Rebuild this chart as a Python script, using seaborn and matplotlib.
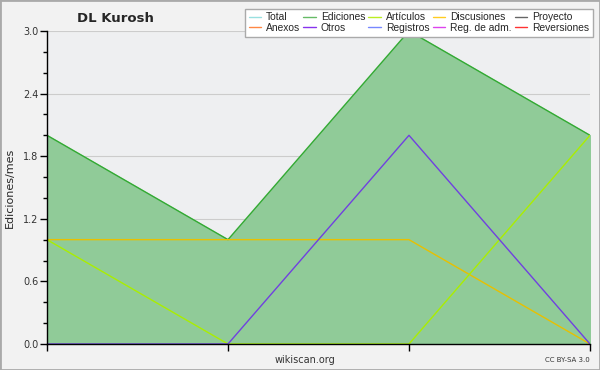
import numpy as np
import pandas as pd
import matplotlib
matplotlib.use("Agg")
import matplotlib.pyplot as plt
import seaborn as sns
from matplotlib.lines import Line2D

# data (four months, no x labels)
months = [0, 1, 2, 3]
ediciones = [2, 1, 3, 2]
articulos = [1, 0, 0, 2]
discusiones = [1, 1, 1, 0]
otros = [0, 0, 2, 0]

y_ticks = [0.0, 0.6, 1.2, 1.8, 2.4, 3.0]

legend_names = ["Total", "Ediciones", "Artículos", "Discusiones", "Proyecto",
                "Anexos", "Otros", "Registros", "Reg. de adm.", "Reversiones"]
legend_colors = ["#99e0e0", "#66bb66", "#bbee22", "#ffcc22", "#666666",
                 "#ff8844", "#8833ee", "#7788ff", "#dd44ee", "#ff3333"]

sns.set_style("white")
plt.rcParams["font.family"] = ["DejaVu Sans"]

fig = plt.figure(figsize=(6, 3.7), dpi=100, facecolor="#f2f2f2")
ax = fig.add_axes([0.0783, 0.0703, 0.905, 0.846])
ax.set_facecolor("#eeeff1")

df = pd.DataFrame({"mes": months, "ediciones": ediciones, "articulos": articulos,
                   "discusiones": discusiones, "otros": otros})

ax.fill_between(df["mes"], df["ediciones"], color="#90cb98", zorder=2)
sns.lineplot(data=df, x="mes", y="ediciones", color="#33aa33", lw=1, ax=ax, zorder=3)
sns.lineplot(data=df, x="mes", y="discusiones", color="#e8c000", lw=1, ax=ax, zorder=4)
sns.lineplot(data=df, x="mes", y="articulos", color="#aaee00", lw=1, ax=ax, zorder=4)
sns.lineplot(data=df, x="mes", y="otros", color="#7040e0", lw=1, ax=ax, zorder=5)

ax.set_xlim(0, 3)
ax.set_ylim(0, 3.0)
ax.set_xticks(months)
ax.set_xticklabels([])
ax.set_yticks(y_ticks)
ax.set_yticklabels([f"{v:.1f}" for v in y_ticks])
ax.set_yticks(np.arange(0, 3.01, 0.2), minor=True)
ax.yaxis.grid(True, which="major", color="#cccccc", lw=0.8, zorder=1)
ax.set_axisbelow(True)
ax.tick_params(axis="y", which="major", length=5, width=1, color="black",
               labelsize=7, labelcolor="#333333", pad=1, left=True)
ax.tick_params(axis="y", which="minor", length=3, width=1, color="black", left=True)
ax.tick_params(axis="x", length=5, width=1, color="black", bottom=True)
for s in ["top", "right"]:
    ax.spines[s].set_visible(False)
for s in ["left", "bottom"]:
    ax.spines[s].set_color("black")
    ax.spines[s].set_linewidth(1)
    ax.spines[s].set_zorder(6)

ax.set_xlabel("")
ax.set_ylabel("Ediciones/mes", fontsize=8, labelpad=6)

fig.text(0.192, 0.951, "DL Kurosh", fontsize=9.5, fontweight="bold", ha="center", va="center")
fig.text(0.508, 0.027, "wikiscan.org", fontsize=7, color="#333333", ha="center", va="center")
fig.text(0.983, 0.027, "CC BY-SA 3.0", fontsize=5, color="#333333", ha="right", va="center")

# legend is filled column-wise, so interleave the two rows
order = [0, 5, 1, 6, 2, 7, 3, 8, 4, 9]
handles = [Line2D([], [], color=legend_colors[i], lw=1) for i in order]
labels = [legend_names[i] for i in order]
leg = fig.legend(handles, labels, ncol=5, loc="upper right", bbox_to_anchor=(0.988, 0.976),
                 borderaxespad=0, prop={"family": "Liberation Sans", "size": 7.4},
                 frameon=True, fancybox=False, handlelength=1.25, handletextpad=0.45,
                 columnspacing=0.3, labelspacing=0.05, borderpad=0.35)
leg.get_frame().set_edgecolor("#aaaaaa")
leg.get_frame().set_facecolor("white")
leg.get_frame().set_alpha(1)
leg.get_frame().set_linewidth(1)

fig.patches.append(plt.Rectangle((0, 0), 1, 1, transform=fig.transFigure,
                                 fill=False, edgecolor="#aaaaaa", lw=2))

fig.savefig("out.png", dpi=100, facecolor=fig.get_facecolor())
